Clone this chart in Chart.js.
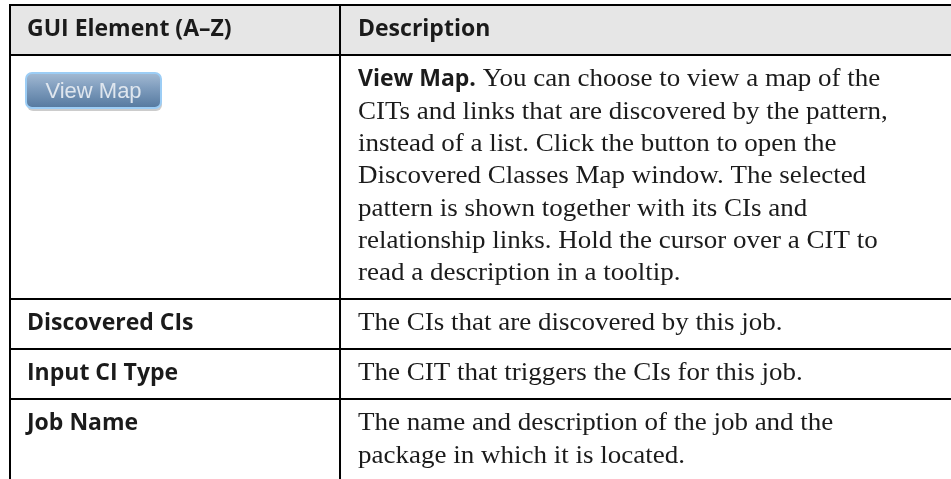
<!DOCTYPE html>
<html>
<head>
<meta charset="utf-8">
<script src="https://cdn.jsdelivr.net/npm/chart.js@4.4.1/dist/chart.umd.min.js"></script>
<style>
	html, body { margin: 0; padding: 0; background: #fff; overflow: hidden; }
	#wrap { width: 951px; height: 479px; }
</style>
</head>
<body>
<div id="wrap"><canvas id="table-canvas"></canvas></div>
<script>
const headers = ["GUI Element (A\u2013Z)", "Description"];

const elements = ["View Map", "Discovered CIs", "Input CI Type", "Job Name"];

// bold lead-in at the start of a description
const leadIns = ["View Map.", "", "", ""];

const descriptions = [
	[
		" You can choose to view a map of the",
		"CITs and links that are discovered by the pattern,",
		"instead of a list. Click the button to open the",
		"Discovered Classes Map window. The selected",
		"pattern is shown together with its CIs and",
		"relationship links. Hold the cursor over a CIT to",
		"read a description in a tooltip.",
	],
	["The CIs that are discovered by this job."],
	["The CIT that triggers the CIs for this job."],
	["The name and description of the job and the", "package in which it is located."],
];

// elements shown as a button picture instead of text
const buttonElements = ["View Map"];

const PAD = 0.55; // extra row height, in text lines
const SPLIT = 0.3507; // column border on the x scale
const SANS = "700 23px 'Open Sans'";
const SERIF = "25px 'Liberation Serif'";
const SERIF_STRETCH = 1.08; // body face is wider than Times
const INK = "#1b1b1b";

function drawButton(ctx, left, top, label) {
	const w = 135, h = 35, r = 6;
	ctx.save();
	ctx.fillStyle = "rgba(0,0,0,0.2)";
	ctx.beginPath();
	ctx.roundRect(left + 1, top + 3, w, h, r);
	ctx.fill();
	const g = ctx.createLinearGradient(0, top, 0, top + h);
	g.addColorStop(0, "#a3bad3");
	g.addColorStop(0.45, "#7d9bbc");
	g.addColorStop(1, "#55799f");
	ctx.fillStyle = g;
	ctx.beginPath();
	ctx.roundRect(left, top, w, h, r);
	ctx.fill();
	ctx.strokeStyle = "#9ccdf5";
	ctx.lineWidth = 2;
	ctx.stroke();
	ctx.font = "22px 'Liberation Sans'";
	ctx.fillStyle = "#dfe6ee";
	ctx.textAlign = "center";
	ctx.textBaseline = "middle";
	ctx.fillText(label, left + w / 2, top + h / 2 + 1);
	ctx.restore();
}

function serifText(ctx, text, px, py) {
	ctx.save();
	ctx.font = SERIF;
	ctx.translate(px, py);
	ctx.scale(SERIF_STRETCH, 1);
	ctx.fillText(text, 0, 0);
	ctx.restore();
}

const tablePlugin = {
	id: "table",
	afterDraw(chart) {
		const { ctx, chartArea, scales } = chart;
		const x = scales.x, y = scales.y;
		const colX = [x.getPixelForValue(0), x.getPixelForValue(SPLIT), x.getPixelForValue(1)];

		const rows = [{ left: headers[0], lead: "", lines: [headers[1]], head: true }];
		elements.forEach((el, i) => {
			rows.push({ left: el, lead: leadIns[i], lines: descriptions[i], head: false });
		});

		ctx.save();
		let start = 0;
		const borders = [];
		rows.forEach((row) => {
			const span = row.lines.length + PAD;
			const top = y.getPixelForValue(start);
			const bottom = y.getPixelForValue(start + span);
			if (row.head) {
				ctx.fillStyle = "#e6e6e6";
				ctx.fillRect(colX[0], top, chartArea.right - colX[0], bottom - top);
			}
			ctx.fillStyle = INK;
			ctx.textBaseline = "alphabetic";
			ctx.textAlign = "left";
			const base = (i) => y.getPixelForValue(start + 0.97 + i);

			if (buttonElements.includes(row.left)) {
				drawButton(ctx, colX[0] + 16, top + 18, row.left);
			} else {
				ctx.font = SANS;
				ctx.fillText(row.left, colX[0] + 17, base(0));
			}

			row.lines.forEach((line, i) => {
				let tx = colX[1] + 18;
				if (i === 0 && row.lead) {
					ctx.font = SANS;
					ctx.fillText(row.lead, tx, base(0));
					tx += ctx.measureText(row.lead).width;
				}
				if (row.head) {
					ctx.font = SANS;
					ctx.fillText(line, tx, base(i));
				} else {
					serifText(ctx, line, tx, base(i));
				}
			});
			borders.push(top, bottom);
			start += span;
		});

		ctx.strokeStyle = "#000";
		ctx.lineWidth = 2;
		ctx.beginPath();
		borders.forEach((py, i) => {
			if (i % 2 === 1 && py < chartArea.bottom) {
				ctx.moveTo(colX[0], Math.round(py));
				ctx.lineTo(chartArea.right, Math.round(py));
			}
		});
		ctx.moveTo(colX[0], chartArea.top);
		ctx.lineTo(chartArea.right, chartArea.top);
		ctx.moveTo(colX[0], chartArea.top - 1);
		ctx.lineTo(colX[0], chartArea.bottom);
		ctx.moveTo(colX[1], chartArea.top);
		ctx.lineTo(colX[1], chartArea.bottom);
		ctx.stroke();
		ctx.restore();
	},
};

new Chart(document.getElementById("table-canvas"), {
	type: "scatter",
	data: { datasets: [] },
	options: {
		responsive: true,
		maintainAspectRatio: false,
		animation: false,
		layout: { padding: { left: 10, top: 5, right: 0, bottom: 0 } },
		plugins: { legend: { display: false }, tooltip: { enabled: false } },
		scales: {
			x: { type: "linear", min: 0, max: 1, display: false },
			y: { type: "linear", min: 0, max: 14.675, reverse: true, display: false },
		},
	},
	plugins: [tablePlugin],
});
</script>
</body>
</html>
